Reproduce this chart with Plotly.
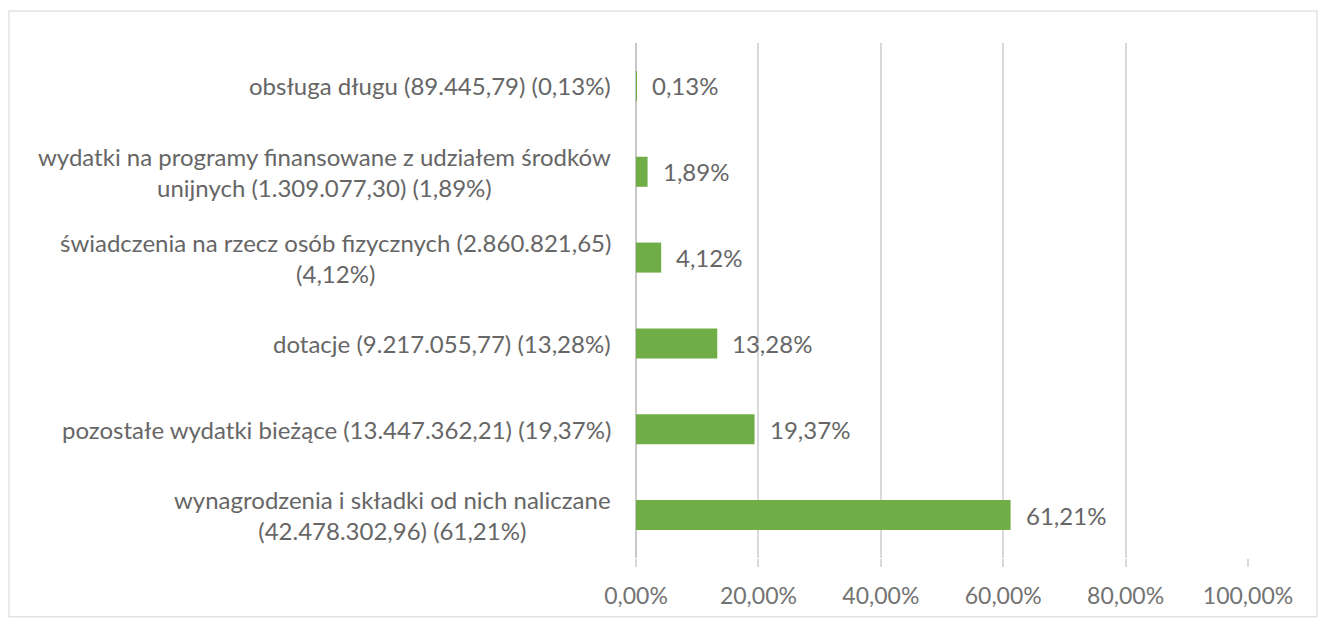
import plotly.graph_objects as go

categories = [
    "obsługa długu (89.445,79) (0,13%)",
    "wydatki na programy finansowane z udziałem środków<br>unijnych (1.309.077,30) (1,89%)",
    "świadczenia na rzecz osób fizycznych (2.860.821,65)<br>(4,12%)",
    "dotacje (9.217.055,77) (13,28%)",
    "pozostałe wydatki bieżące (13.447.362,21) (19,37%)",
    "wynagrodzenia i składki od nich naliczane<br>(42.478.302,96) (61,21%)",
]
values = [0.13, 1.89, 4.12, 13.28, 19.37, 61.21]
tick_vals = [0, 20, 40, 60, 80, 100]
tick_text = ["0,00%", "20,00%", "40,00%", "60,00%", "80,00%", "100,00%"]

W, H = 1322, 621
ML, MR, MT, MB = 636, 74, 43, 61
FONT = "Lato"
TXT = "#666666"
GRID = "#d9d9d9"

ids = list(range(len(categories)))

fig = go.Figure()
fig.add_trace(go.Bar(
    x=values, y=ids, orientation="h",
    marker=dict(color="#70AD47", line=dict(width=0)),
    width=0.35, hoverinfo="skip",
))

annotations = []
for i, (c, v) in enumerate(zip(categories, values)):
    annotations.append(dict(
        x=0, xref="paper", y=i, yref="y", text=c, showarrow=False,
        xanchor="right", yanchor="middle", align="center", xshift=-23,
        font=dict(family=FONT, size=24, color=TXT),
    ))
    annotations.append(dict(
        x=v, xref="x", y=i, yref="y", text=f"{v:.2f}".replace(".", ",") + "%",
        showarrow=False, xanchor="left", yanchor="middle", xshift=13,
        font=dict(family=FONT, size=24, color=TXT),
    ))

pw = W - ML - MR
ph = H - MT - MB
def px_x(p):
    return (p - ML) / pw
def px_y(p):
    return (H - MB - p) / ph

fig.update_layout(
    width=W, height=H,
    margin=dict(l=ML, r=MR, t=MT, b=MB, pad=0),
    paper_bgcolor="white", plot_bgcolor="white",
    showlegend=False,
    annotations=annotations,
    shapes=[dict(type="rect", xref="paper", yref="paper",
                 x0=px_x(9), x1=px_x(1317), y0=px_y(619), y1=px_y(11),
                 line=dict(color="#e3e3e3", width=1.5), layer="below")],
    xaxis=dict(
        range=[0, 100], tickvals=tick_vals, ticktext=tick_text,
        showgrid=True, gridcolor=GRID, gridwidth=1.5,
        zeroline=True, zerolinecolor="#c8c8c8", zerolinewidth=1.5,
        ticks="outside", ticklen=8, tickcolor=GRID, tickwidth=1.5,
        ticklabelstandoff=9,
        tickfont=dict(family=FONT, size=23, color="#737373"),
        showline=False, fixedrange=True,
    ),
    yaxis=dict(
        range=[len(categories) - 0.5, -0.5],
        showticklabels=False, showgrid=False, zeroline=False,
        showline=False, ticks="",
    ),
)

fig.write_html("out.html", config={"displayModeBar": False},
               post_script="document.body.style.margin='0';")
